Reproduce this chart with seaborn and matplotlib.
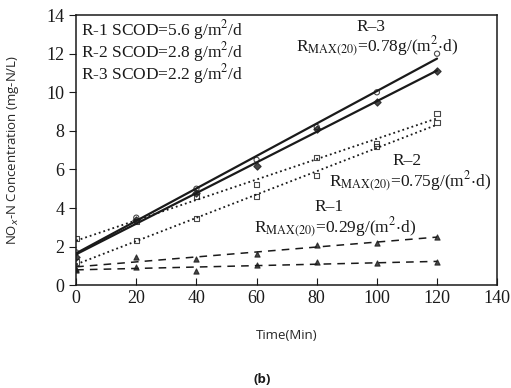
import numpy as np
import pandas as pd
import matplotlib.pyplot as plt
import seaborn as sns

# values
time_min = [0, 20, 40, 60, 80, 100, 120]
r3_a = [1.7, 3.5, 5.0, 6.5, 8.2, 10.0, 12.0]
r3_b = [1.45, 3.4, 4.8, 6.2, 8.1, 9.5, 11.1]
r2_a = [2.4, 3.3, 4.6, 5.2, 6.6, 7.35, 8.9]
r2_b = [1.2, 2.3, 3.45, 4.6, 5.7, 7.2, 8.45]
r1_a = [0.85, 1.45, 1.35, 1.6, 2.1, 2.2, 2.5]
r1_b = [0.8, 0.95, 0.75, 1.05, 1.2, 1.15, 1.2]

sns.set_style('ticks')
plt.rcParams['font.family'] = ['Liberation Serif', 'DejaVu Serif']
plt.rcParams['mathtext.fontset'] = 'stix'

ink = '#1a1a1a'
fig = plt.figure(figsize=(5.11, 3.88), dpi=100)
ax = fig.add_axes([0.149, 0.265, 0.824, 0.696])

series = [
    (r3_a, 'o', '-', 1.6, 'none'),
    (r3_b, 'D', '-', 1.6, ink),
    (r2_a, 's', ':', 1.3, 'none'),
    (r2_b, 's', ':', 1.3, 'none'),
    (r1_a, '^', (0, (5, 4)), 1.1, ink),
    (r1_b, '^', (0, (5, 4)), 1.1, ink),
]
for vals, mk, ls, lw, fc in series:
    df = pd.DataFrame({'t': time_min, 'c': vals})
    sns.regplot(data=df, x='t', y='c', ax=ax, ci=None, marker=mk,
                scatter_kws={'s': 14, 'facecolors': fc, 'edgecolors': ink,
                             'linewidths': 0.8, 'color': ink},
                line_kws={'color': ink, 'linestyle': ls, 'linewidth': lw})

ax.set_xlim(0, 140)
ax.set_ylim(0, 14)
ax.set_xticks(range(0, 141, 20))
ax.set_yticks(range(0, 15, 2))
ax.tick_params(axis='both', labelsize=13, colors=ink, length=5)
ax.tick_params(axis='x', direction='in')
for s in ax.spines.values():
    s.set_color(ink)
    s.set_linewidth(1.1)

ax.set_xlabel('Time(Min)', family='Open Sans', fontsize=9.5, labelpad=16)
ax.set_ylabel(r'NO$_{x}$-N Concentration (mg-N/L)', family='Open Sans',
              fontsize=9.5, labelpad=18)
ax.yaxis.label.set_math_fontfamily('dejavusans')

tk = dict(fontsize=12.5, color=ink)
ax.text(1.5, 13.25, r'R-1 SCOD=5.6 g/m$^2$/d', va='center', **tk)
ax.text(1.5, 12.1, r'R-2 SCOD=2.8 g/m$^2$/d', va='center', **tk)
ax.text(1.5, 10.95, r'R-3 SCOD=2.2 g/m$^2$/d', va='center', **tk)

ax.text(98, 13.4, 'R\u20133', ha='center', va='center', **tk)
ax.text(100, 12.35, r'R$_{\mathrm{MAX(20)}}$=0.78g/(m$^2$$\cdot$d)', ha='center', va='center', **tk)
ax.text(110, 6.45, 'R\u20132', ha='center', va='center', **tk)
ax.text(111, 5.35, r'R$_{\mathrm{MAX(20)}}$=0.75g/(m$^2$$\cdot$d)', ha='center', va='center', **tk)
ax.text(84, 4.05, 'R\u20131', ha='center', va='center', **tk)
ax.text(86, 2.95, r'R$_{\mathrm{MAX(20)}}$=0.29g/(m$^2$$\cdot$d)', ha='center', va='center', **tk)

fig.text(0.513, 0.005, '(b)', ha='center', va='bottom', family='Open Sans',
         fontweight='bold', fontsize=9.5, color=ink)

fig.savefig('out.png', dpi=100)
